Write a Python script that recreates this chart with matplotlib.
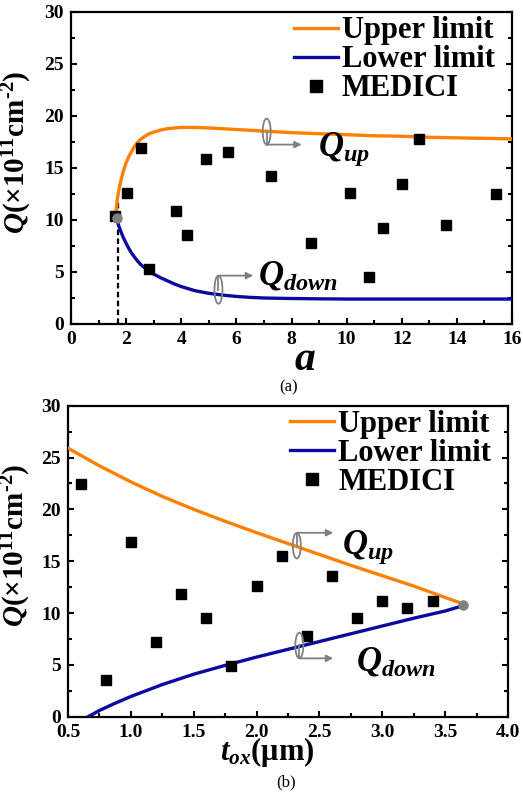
import matplotlib
matplotlib.use("Agg")
import matplotlib.pyplot as plt
from matplotlib.patches import Ellipse
from matplotlib.ticker import MultipleLocator, FormatStrFormatter

plt.rcParams['font.family'] = ['Liberation Serif', 'DejaVu Serif']
plt.rcParams['font.weight'] = 'bold'
plt.rcParams['mathtext.fontset'] = 'custom'
plt.rcParams['mathtext.rm'] = 'Liberation Serif:bold'
plt.rcParams['mathtext.it'] = 'Liberation Serif:italic:bold'
plt.rcParams['mathtext.bf'] = 'Liberation Serif:bold'

# ---------------- data panel (a) ----------------
a_upper_x = [1.62, 1.64, 1.67, 1.71, 1.76, 1.82, 1.90, 2.00, 2.10, 2.20, 2.30, 2.40,
             2.50, 2.65, 2.80, 3.00, 3.25, 3.50, 3.75, 4.00, 4.50, 5.00, 6.00, 7.00,
             8.00, 9.00, 10.0, 11.0, 12.0, 13.0, 14.0, 15.0, 16.0]
a_upper_y = [10.3, 11.0, 11.8, 12.5, 13.2, 13.9, 14.7, 15.5, 16.1, 16.6, 17.05, 17.4,
             17.7, 18.0, 18.25, 18.45, 18.65, 18.78, 18.85, 18.9, 18.9, 18.85, 18.7, 18.55,
             18.4, 18.3, 18.2, 18.1, 18.05, 17.95, 17.9, 17.85, 17.8]
a_lower_x = [1.65, 1.70, 1.75, 1.80, 1.90, 2.00, 2.10, 2.20, 2.30, 2.40, 2.50, 2.60,
             2.80, 3.00, 3.25, 3.50, 3.75, 4.00, 4.50, 5.00, 5.50, 6.00, 6.50, 7.00,
             8.00, 9.00, 10.0, 12.0, 14.0, 16.0]
a_lower_y = [10.2, 9.7, 9.3, 8.95, 8.3, 7.75, 7.25, 6.8, 6.45, 6.1, 5.8, 5.55,
             5.15, 4.8, 4.45, 4.15, 3.85, 3.6, 3.2, 2.95, 2.78, 2.65, 2.56, 2.5,
             2.45, 2.42, 2.4, 2.4, 2.4, 2.4]
a_medici_x = [1.6, 2.02, 2.53, 2.83, 3.81, 4.22, 4.89, 5.71, 7.24, 8.70, 10.11,
              10.81, 11.32, 12.02, 12.63, 13.6, 15.42]
a_medici_y = [10.4, 12.6, 16.95, 5.3, 10.9, 8.56, 15.9, 16.5, 14.2, 7.8, 12.6,
              4.55, 9.2, 13.46, 17.8, 9.49, 12.5]
a_point = (1.66, 10.2)
a_dash_x = 1.72
a_dash_top = 11.9

# ---------------- data panel (b) ----------------
b_upper_x = [0.5, 0.75, 1.0, 1.25, 1.5, 1.75, 2.0, 2.25, 2.5, 2.75, 3.0, 3.25, 3.5, 3.64]
b_upper_y = [25.9, 24.2, 22.65, 21.25, 20.0, 18.85, 17.75, 16.7, 15.65, 14.6, 13.6, 12.6, 11.5, 10.9]
b_lower_x = [0.66, 0.75, 0.875, 1.0, 1.25, 1.5, 1.75, 2.0, 2.25, 2.5, 2.75, 3.0, 3.25, 3.5, 3.64]
b_lower_y = [0.0, 0.6, 1.3, 1.95, 3.1, 4.1, 4.95, 5.75, 6.5, 7.25, 8.0, 8.75, 9.5, 10.2, 10.7]
b_medici_x = [0.6, 0.8, 1.0, 1.2, 1.4, 1.6, 1.8, 2.0, 2.2, 2.4, 2.6, 2.8, 3.0, 3.2, 3.4]
b_medici_y = [22.4, 3.54, 16.9, 7.17, 11.83, 9.52, 4.89, 12.6, 15.53, 7.78, 13.6,
              9.52, 11.19, 10.48, 11.16]
b_point = (3.64, 10.8)

ORANGE = '#FF8000'
BLUE = '#0A0AA0'
GRAY = '#808080'
YLABEL = r'$Q$(×10$^{11}$cm$^{\text{-2}}$)'

fig = plt.figure(figsize=(5.23, 7.93), dpi=100)
ax1 = fig.add_axes([71/523, 1-324/793, 441/523, 312/793])
ax2 = fig.add_axes([68/523, 1-716.7/793, 440/523, 311/793])


def style(ax):
    for s in ax.spines.values():
        s.set_linewidth(1.6)
    ax.tick_params(which='both', direction='in', left=True, right=True,
                   bottom=True, top=False, width=1.5, labelsize=14, pad=5)
    ax.tick_params(which='major', length=4)
    ax.tick_params(which='minor', length=3)
    for lab in ax.get_xticklabels() + ax.get_yticklabels():
        lab.set_fontweight('bold')


def annotate(ax, xc, yc, w, h, ytip, xend, text, tx, ty):
    ax.add_patch(Ellipse((xc, yc), w, h, fill=False, edgecolor=GRAY, lw=1.3, zorder=5))
    ax.plot([xc, xc], [yc, ytip], color=GRAY, lw=1.3, zorder=5)
    ax.annotate('', xy=(xend, ytip), xytext=(xc, ytip),
                arrowprops=dict(arrowstyle='-|>', color=GRAY, lw=1.3,
                                mutation_scale=10, shrinkA=0, shrinkB=0), zorder=5)
    ax.text(tx, ty, text, fontsize=25, va='center', ha='left', zorder=6)


def legend(ax):
    leg = ax.legend(loc='upper left', bbox_to_anchor=(0.47, 1.035), frameon=False,
                    fontsize=22, handlelength=1.45, handletextpad=0.12,
                    labelspacing=0.0, borderpad=0, markerscale=1.3)
    for t in leg.get_texts():
        t.set_fontweight('bold')


# ---------------- panel (a) ----------------
ax1.plot(a_upper_x, a_upper_y, color=ORANGE, lw=2.4, label='Upper limit', zorder=3)
ax1.plot(a_lower_x, a_lower_y, color=BLUE, lw=2.4, label='Lower limit', zorder=3)
ax1.plot(a_medici_x, a_medici_y, 's', color='black', ms=7, label='MEDICI', zorder=4)
ax1.plot([a_dash_x, a_dash_x], [0, a_dash_top], color='black', lw=1.6, ls=(0, (2.5, 1.5)), zorder=2)
ax1.plot([a_point[0]], [a_point[1]], 'o', color=GRAY, ms=6.5, zorder=5)
ax1.set_xlim(0, 16)
ax1.set_ylim(0, 30)
ax1.xaxis.set_major_locator(MultipleLocator(2))
ax1.xaxis.set_minor_locator(MultipleLocator(1))
ax1.yaxis.set_major_locator(MultipleLocator(5))
ax1.yaxis.set_minor_locator(MultipleLocator(2.5))
style(ax1)
annotate(ax1, 7.10, 18.5, 0.29, 2.5, 17.25, 8.37, r'$Q_{up}$', 8.95, 16.8)
annotate(ax1, 5.35, 3.3, 0.29, 2.7, 4.65, 6.61, r'$Q_{down}$', 6.8, 4.6)
ax1.set_ylabel(YLABEL, fontsize=21, fontweight='bold')
ax1.yaxis.set_label_coords(-0.085, 0.55)
ax1.text(0.53, -0.147, r'$a$', transform=ax1.transAxes, fontsize=30,
         ha='center', va='baseline')
legend(ax1)
fig.text(289/523, 1-387/793, '(a)', ha='center', va='center', fontsize=12,
         fontweight='normal')

# ---------------- panel (b) ----------------
ax2.plot(b_upper_x, b_upper_y, color=ORANGE, lw=2.4, label='Upper limit', zorder=3)
ax2.plot(b_lower_x, b_lower_y, color=BLUE, lw=2.4, label='Lower limit', zorder=3)
ax2.plot(b_medici_x, b_medici_y, 's', color='black', ms=7, label='MEDICI', zorder=4)
ax2.plot([b_point[0]], [b_point[1]], 'o', color=GRAY, ms=6.5, zorder=5)
ax2.set_xlim(0.5, 4.0)
ax2.set_ylim(0, 30)
ax2.xaxis.set_major_locator(MultipleLocator(0.5))
ax2.xaxis.set_minor_locator(MultipleLocator(0.25))
ax2.yaxis.set_major_locator(MultipleLocator(5))
ax2.yaxis.set_minor_locator(MultipleLocator(2.5))
ax2.xaxis.set_major_formatter(FormatStrFormatter('%.1f'))
style(ax2)
annotate(ax2, 2.32, 16.5, 0.064, 2.47, 17.74, 2.61, r'$Q_{up}$', 2.68, 16.3)
annotate(ax2, 2.34, 6.87, 0.064, 2.47, 5.63, 2.61, r'$Q_{down}$', 2.79, 5.3)
ax2.set_ylabel(YLABEL, fontsize=21, fontweight='bold')
ax2.yaxis.set_label_coords(-0.08, 0.55)
ax2.text(0.452, -0.139, r'$t_{ox}$(μm)', transform=ax2.transAxes, fontsize=22,
         ha='center', va='baseline')
legend(ax2)
fig.text(286/523, 1-782/793, '(b)', ha='center', va='center', fontsize=12,
         fontweight='normal')

fig.savefig('out.png', dpi=100)
